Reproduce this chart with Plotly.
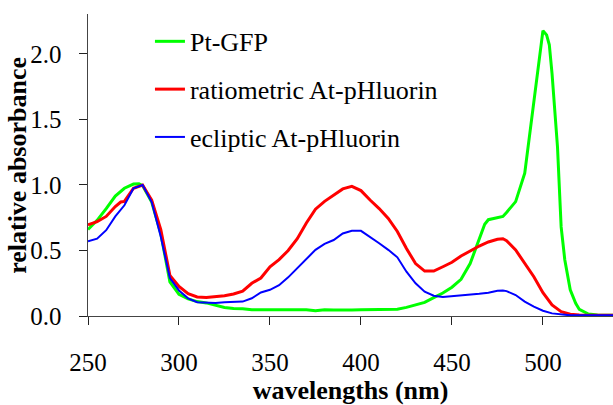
import plotly.graph_objects as go

# ---- data ----
wl_gfp = [250, 255, 260, 265, 270, 275, 278, 280, 285, 290, 295, 300, 305, 310, 315,
          320, 325, 330, 335, 340, 345, 350, 355, 360, 365, 370, 375, 380, 385, 390,
          395, 400, 405, 410, 415, 420, 425, 430, 435, 440, 445, 450, 455, 460, 465,
          468, 470, 475, 478, 480, 485, 490, 495, 498, 500, 502, 503.5, 505, 508, 510,
          512, 515, 518, 520, 525, 530, 535, 540]
abs_gfp = [0.66, 0.73, 0.82, 0.915, 0.975, 1.007, 1.01, 0.995, 0.87, 0.63, 0.26, 0.165, 0.13, 0.11, 0.10,
           0.085, 0.065, 0.057, 0.055, 0.047, 0.047, 0.047, 0.047, 0.047, 0.047, 0.047, 0.040, 0.047, 0.045, 0.043,
           0.045, 0.048, 0.050, 0.050, 0.050, 0.052, 0.066, 0.084, 0.104, 0.14, 0.175, 0.22, 0.28, 0.40, 0.58,
           0.70, 0.735, 0.748, 0.76, 0.79, 0.873, 1.09, 1.62, 1.98, 2.178, 2.145, 2.07, 1.85, 1.29, 0.68,
           0.43, 0.20, 0.097, 0.05, 0.015, 0.008, 0.005, 0.005]

wl_ratio = [250, 255, 260, 265, 268, 270, 275, 280, 285, 290, 295, 300, 305, 310, 315,
            320, 325, 330, 335, 340, 345, 350, 355, 360, 365, 370, 375, 380, 385, 390,
            395, 400, 405, 410, 415, 420, 425, 430, 435, 440, 445, 450, 455, 460, 465,
            470, 475, 478, 480, 485, 490, 495, 500, 505, 510, 515, 520, 525, 530, 535, 540]
abs_ratio = [0.695, 0.72, 0.76, 0.835, 0.87, 0.875, 0.975, 1.0, 0.885, 0.66, 0.31, 0.225, 0.17, 0.145, 0.142,
             0.147, 0.155, 0.168, 0.19, 0.25, 0.29, 0.376, 0.43, 0.50, 0.59, 0.71, 0.815, 0.875, 0.925, 0.97,
             0.99, 0.957, 0.885, 0.82, 0.745, 0.645, 0.515, 0.40, 0.343, 0.343, 0.376, 0.41, 0.458, 0.496, 0.534,
             0.565, 0.585, 0.59, 0.575, 0.504, 0.40, 0.30, 0.178, 0.084, 0.033, 0.013, 0.008, 0.005, 0.005, 0.005, 0.005]

wl_eclip = [250, 255, 260, 265, 270, 275, 280, 285, 290, 295, 300, 305, 310, 315,
            320, 325, 330, 335, 340, 345, 350, 355, 360, 365, 370, 375, 380, 385, 390,
            395, 400, 405, 410, 415, 420, 425, 430, 435, 440, 445, 450, 455, 460, 465,
            470, 475, 478, 480, 485, 490, 495, 500, 505, 510, 515, 520, 525, 530, 535, 540]
abs_eclip = [0.57, 0.59, 0.655, 0.76, 0.845, 0.975, 1.0, 0.87, 0.605, 0.29, 0.195, 0.135, 0.105, 0.10,
             0.10, 0.105, 0.11, 0.11, 0.135, 0.18, 0.20, 0.235, 0.295, 0.365, 0.435, 0.505, 0.55, 0.58, 0.63,
             0.65, 0.65, 0.605, 0.555, 0.505, 0.448, 0.338, 0.25, 0.186, 0.155, 0.145, 0.15, 0.155, 0.163, 0.17,
             0.178, 0.193, 0.195, 0.19, 0.16, 0.11, 0.071, 0.04, 0.02, 0.01, 0.005, 0.005, 0.005, 0.005, 0.005, 0.005]

series_names = ["Pt-GFP", "ratiometric At-pHluorin", "ecliptic At-pHluorin"]
x_ticks = [250, 300, 350, 400, 450, 500]
y_ticks = [0.0, 0.5, 1.0, 1.5, 2.0]
y_tick_labels = ["0.0", "0.5", "1.0", "1.5", "2.0"]
x_title = "wavelengths (nm)"
y_title = "relative absorbance"

FONT = "'Liberation Serif', 'Times New Roman', serif"

fig = go.Figure()
fig.add_trace(go.Scatter(x=wl_gfp, y=abs_gfp, mode="lines", name=series_names[0],
                         line=dict(color="#00FF00", width=3), legendgroup="a"))
fig.add_trace(go.Scatter(x=wl_ratio, y=abs_ratio, mode="lines", name=series_names[1],
                         line=dict(color="#FF0000", width=3), legendgroup="b"))
fig.add_trace(go.Scatter(x=wl_eclip, y=abs_eclip, mode="lines", name=series_names[2],
                         line=dict(color="#0000FF", width=2), legendgroup="c"))

fig.update_layout(
    width=613, height=405,
    margin=dict(l=88, r=0, t=14, b=89, autoexpand=False),
    paper_bgcolor="white", plot_bgcolor="white",
    font=dict(family=FONT, size=25, color="black"),
    showlegend=True,
    legend=dict(x=0.118, y=0.987, xanchor="left", yanchor="top",
                bgcolor="rgba(0,0,0,0)", borderwidth=0,
                font=dict(family=FONT, size=26, color="black"),
                tracegroupgap=11, itemwidth=30),
    xaxis=dict(range=[250, 538.5], tickvals=x_ticks, showline=True, linecolor="#444",
               linewidth=1, ticks="outside", ticklen=8, tickcolor="#222", tickwidth=1,
               showgrid=False, zeroline=False, ticklabelstandoff=16, automargin=False,
               tickfont=dict(family=FONT, size=25, color="black"),
               title=dict(text="<b>" + x_title + "</b>", standoff=8,
                          font=dict(family=FONT, size=26, color="black"))),
    yaxis=dict(range=[0, 2.305], tickvals=y_ticks,
               ticktext=[t + "&nbsp;&nbsp;" for t in y_tick_labels], showline=True,
               linecolor="#444", linewidth=1, ticks="outside", ticklen=8, tickcolor="#222",
               tickwidth=1, showgrid=False, zeroline=False, automargin=False,
               tickfont=dict(family=FONT, size=25, color="black")),
    annotations=[dict(text="<b>" + y_title + "</b>", textangle=-90,
                      xref="paper", yref="paper", x=-0.106, y=0.5,
                      xanchor="right", yanchor="middle", showarrow=False,
                      borderpad=0,
                      font=dict(family=FONT, size=26, color="black"))],
)

fig.write_html("out.html", config={"displayModeBar": False},
               post_script="document.body.style.margin='0px';")
